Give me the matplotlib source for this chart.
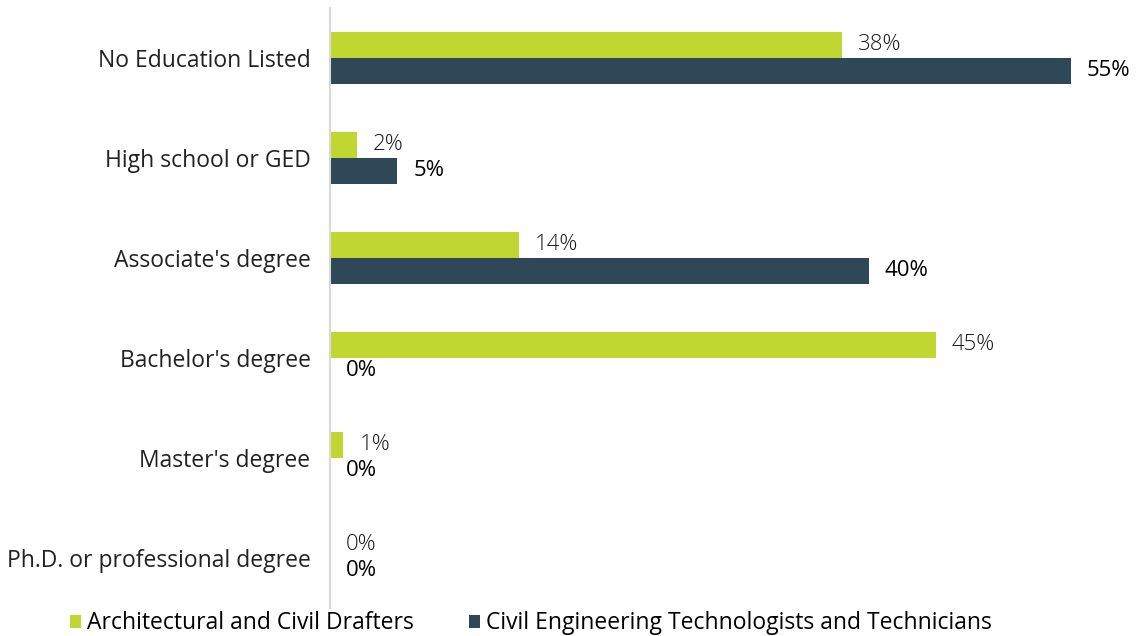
import matplotlib.pyplot as plt
import numpy as np

categories = ["No Education Listed", "High school or GED", "Associate's degree",
              "Bachelor's degree", "Master's degree", "Ph.D. or professional degree"]
drafters = [38, 2, 14, 45, 1, 0]
technicians = [55, 5, 40, 0, 0, 0]
series_names = ["Architectural and Civil Drafters",
                "Civil Engineering Technologists and Technicians"]

green = "#BFD730"
navy = "#2F4858"

plt.rcParams['font.family'] = ['Open Sans', 'DejaVu Sans']

fig = plt.figure(figsize=(11.41, 6.36), dpi=100)
ax = fig.add_axes([330 / 1141, 28 / 636, 808 / 1141, 600 / 636])

y = np.arange(len(categories))
h = 0.26
b1 = ax.barh(y - h / 2, drafters, height=h, color=green, label=series_names[0])
b2 = ax.barh(y + h / 2, technicians, height=h, color=navy, label=series_names[1])

# value labels, lighter for the first series
ax.bar_label(b1, labels=[f"{v}%" for v in drafters], padding=11.5,
             fontsize=16, color="#1a1a1a", fontweight="light")
ax.bar_label(b2, labels=[f"{v}%" for v in technicians], padding=11.5,
             fontsize=16, color="black")

ax.set_xlim(0, 60)
ax.set_ylim(len(categories) - 0.5, -0.5)
ax.set_yticks(y)
ax.set_yticklabels(categories, fontsize=16.5, color="#222222")
ax.tick_params(axis='y', length=0, pad=14)
ax.set_xticks([])
for s in ["top", "right", "bottom"]:
    ax.spines[s].set_visible(False)
ax.spines["left"].set_color("#D9D9D9")
ax.spines["left"].set_linewidth(1.5)

fig.legend(handles=[b1, b2], loc="center", bbox_to_anchor=(0.465, 0.02),
           ncol=2, frameon=False, fontsize=16.5, handlelength=0.5,
           handleheight=0.5, handletextpad=0.25, columnspacing=2.4)

fig.savefig("out.png", dpi=100)
